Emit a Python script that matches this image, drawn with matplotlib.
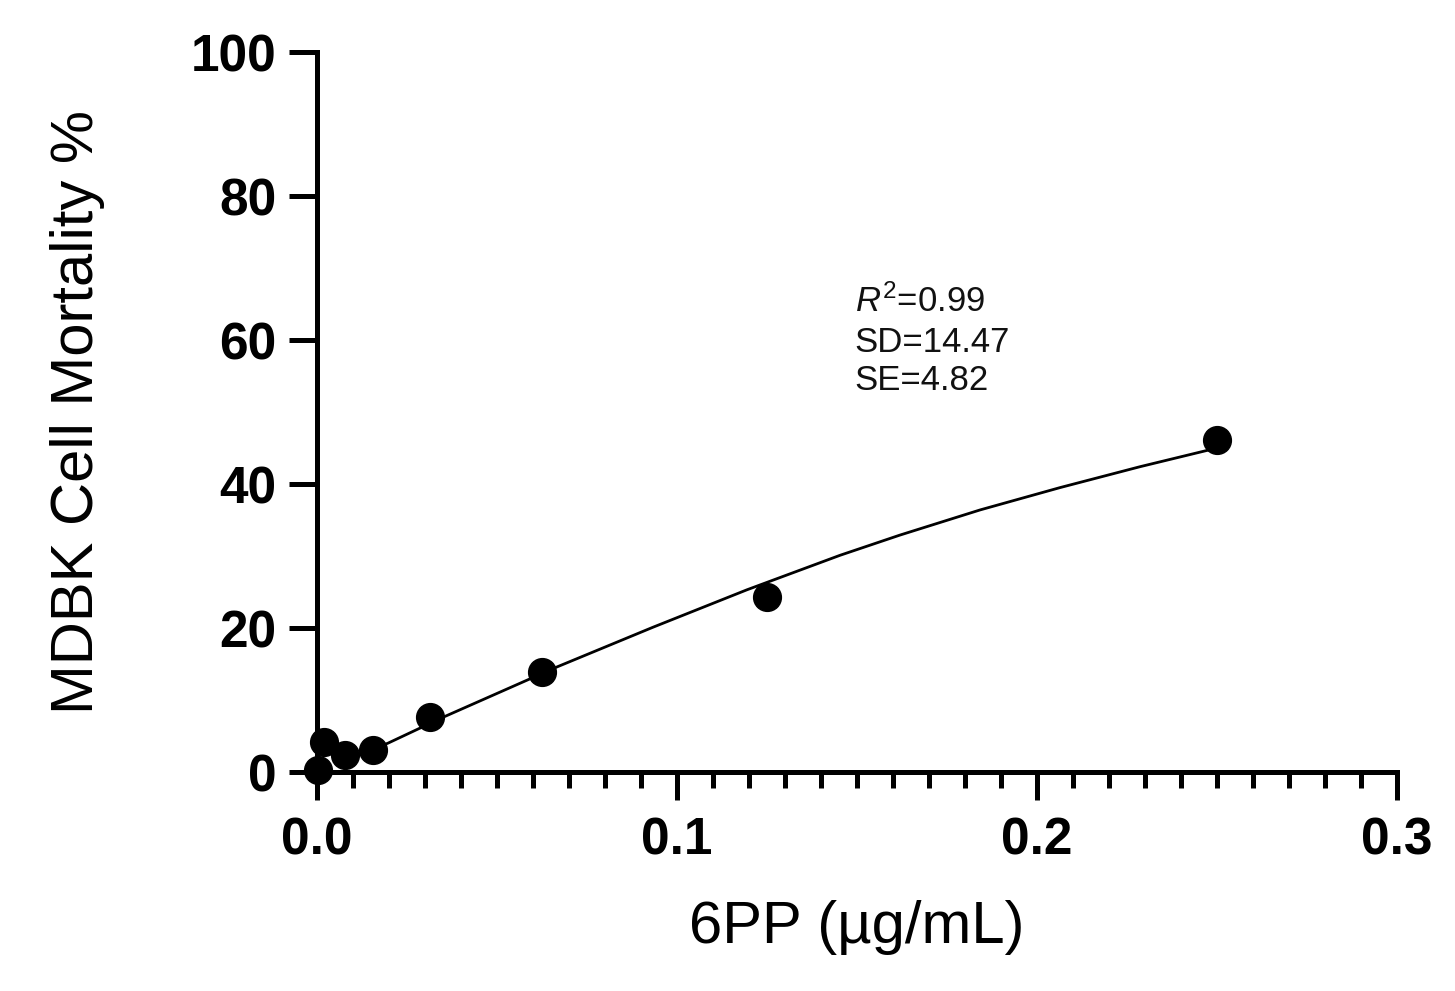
import matplotlib
matplotlib.use("Agg")
import matplotlib.pyplot as plt
from matplotlib.ticker import MultipleLocator

plt.rcParams['font.family'] = ['Liberation Sans', 'DejaVu Sans']
plt.rcParams['mathtext.fontset'] = 'custom'
plt.rcParams['mathtext.rm'] = 'Liberation Sans'
plt.rcParams['mathtext.it'] = 'Liberation Sans:italic'

conc = [0.0004, 0.002, 0.0078, 0.0156, 0.0313, 0.0625, 0.125, 0.25]
mortality = [0.3, 4.2, 2.4, 3.0, 7.6, 13.9, 24.3, 46.1]

# Fitted curve, sampled along the drawn line
fit_x = [0.008, 0.0197, 0.035, 0.0667, 0.0933, 0.1194, 0.1453, 0.1619, 0.1842, 0.2064, 0.2286, 0.25]
fit_y = [1.8, 4.0, 7.6, 14.6, 20.1, 25.3, 30.1, 32.9, 36.4, 39.5, 42.4, 45.0]

stats = [r'$\mathit{R}^2$=0.99', 'SD=14.47', 'SE=4.82']
stats_y = [63.9, 58.3, 53.0]

x_ticks = [0.0, 0.1, 0.2, 0.3]
x_ticklabels = ['0.0', '0.1', '0.2', '0.3']
y_ticks = [0, 20, 40, 60, 80, 100]

fig = plt.figure(figsize=(14.55, 9.91), dpi=100)
ax = fig.add_axes([317/1455, 1 - 772/991, (1397 - 317)/1455, (772 - 52)/991])

ax.plot(fit_x, fit_y, color='black', lw=2, zorder=3, solid_joinstyle='round')
ax.plot(conc, mortality, 'o', color='black', markersize=20, clip_on=False, zorder=5)

ax.set_xlim(0, 0.3)
ax.set_ylim(0, 100)
ax.set_xticks(x_ticks)
ax.set_xticklabels(x_ticklabels)
ax.xaxis.set_minor_locator(MultipleLocator(0.01))
ax.set_yticks(y_ticks)

for s in ['top', 'right']:
    ax.spines[s].set_visible(False)
for s in ['left', 'bottom']:
    ax.spines[s].set_linewidth(3.6)

ax.tick_params(axis='both', which='major', length=20, width=3.6, labelsize=37)
ax.tick_params(axis='x', which='minor', length=11.5, width=3.6)
ax.tick_params(axis='x', which='major', pad=12)
ax.tick_params(axis='y', which='major', pad=9)
for lab in ax.get_xticklabels() + ax.get_yticklabels():
    lab.set_fontweight('bold')

ax.set_xlabel('6PP (µg/mL)', fontsize=43, labelpad=25)
ax.set_ylabel('MDBK Cell Mortality %', fontsize=43, labelpad=62)

for t, yy in zip(stats, stats_y):
    ax.text(0.1494, yy, t, fontsize=25, va='baseline', ha='left', color='#111111')

fig.savefig('out.png', dpi=100)
